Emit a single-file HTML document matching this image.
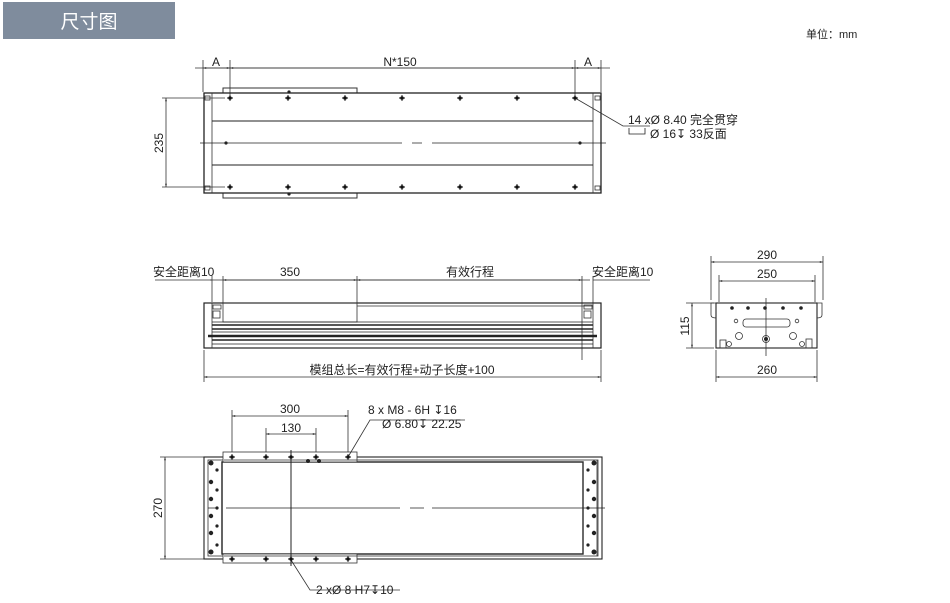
<!DOCTYPE html>
<html><head><meta charset="utf-8"><style>
html,body{margin:0;padding:0;background:#fff;}
svg{display:block;}
text{font-family:"Liberation Sans","Noto Sans CJK SC",sans-serif;fill:#222;font-size:12px;}
</style></head><body>
<svg width="950" height="603" viewBox="0 0 950 603" xmlns="http://www.w3.org/2000/svg">
<defs>
<marker id="a" viewBox="0 0 10 10" refX="10" refY="5" markerWidth="6" markerHeight="4" orient="auto-start-reverse"><path d="M0,2 L10,5 L0,8 z" fill="#333"/></marker>
<g id="h"><circle r="1.8" fill="#111"/><path d="M-3,0H3M0,-3V3" stroke="#111" stroke-width="0.9"/></g>
</defs>
<rect x="3" y="2" width="172" height="37" fill="#7f8c9d"/>
<text x="89" y="28" text-anchor="middle" style="font-size:19px;fill:#fff">尺寸图</text>
<text x="806" y="38" style="font-size:11px">单位：mm</text>

<g stroke="#333" stroke-width="0.8" fill="none">
<!-- TOP VIEW -->
<line x1="203" y1="60" x2="203" y2="92"/><line x1="230" y1="60" x2="230" y2="96"/>
<line x1="575" y1="60" x2="575" y2="96"/><line x1="601" y1="60" x2="601" y2="92"/>
<line x1="195" y1="68" x2="610" y2="68"/>
<line x1="203" y1="68" x2="230" y2="68" marker-start="url(#a)" marker-end="url(#a)"/>
<line x1="230" y1="68" x2="575" y2="68" marker-start="url(#a)" marker-end="url(#a)"/>
<line x1="575" y1="68" x2="601" y2="68" marker-start="url(#a)" marker-end="url(#a)"/>
<line x1="162" y1="98" x2="225" y2="98"/><line x1="162" y1="187" x2="225" y2="187"/>
<line x1="166" y1="98" x2="166" y2="187" marker-start="url(#a)" marker-end="url(#a)"/>
<rect x="223" y="88" width="134" height="5" stroke-width="1"/>
<rect x="223" y="193" width="134" height="5" stroke-width="1"/>
<rect x="204" y="93" width="397" height="100" stroke-width="1.3" stroke="#222"/>
<line x1="212" y1="93" x2="212" y2="193"/><line x1="593" y1="93" x2="593" y2="193"/>
<line x1="212" y1="121" x2="593" y2="121" stroke-width="1.1" stroke="#222"/><line x1="212" y1="165" x2="593" y2="165" stroke-width="1.1" stroke="#222"/>
<rect x="205" y="96" width="5" height="4"/><rect x="205" y="186" width="5" height="4"/>
<rect x="595" y="96" width="5" height="4"/><rect x="595" y="186" width="5" height="4"/>
<path d="M200,143H402M412,143H422M432,143H606" stroke="#222"/>
<path d="M575,98L623,126H650"/>
<path d="M629,128V134H645V128" stroke="#222"/>

<!-- SIDE VIEW -->
<line x1="210" y1="280" x2="590" y2="280"/>
<line x1="212" y1="276" x2="212" y2="302"/><line x1="223" y1="276" x2="223" y2="303"/>
<line x1="357" y1="276" x2="357" y2="303"/>
<line x1="582" y1="276" x2="582" y2="360"/><line x1="593" y1="276" x2="593" y2="303"/>
<line x1="155" y1="280" x2="212" y2="280"/><line x1="593" y1="280" x2="650" y2="280"/>
<line x1="223" y1="280" x2="357" y2="280" marker-start="url(#a)" marker-end="url(#a)"/>
<line x1="357" y1="280" x2="582" y2="280" marker-start="url(#a)" marker-end="url(#a)"/>
<rect x="204" y="303" width="397" height="45" stroke-width="1.2" stroke="#222"/>
<line x1="212" y1="303" x2="212" y2="348"/><line x1="593" y1="303" x2="593" y2="348"/>
<rect x="223" y="303" width="134" height="19"/>
<line x1="357" y1="306" x2="593" y2="306"/>
<rect x="213" y="305" width="8" height="4"/><rect x="213" y="311" width="7" height="7"/>
<rect x="584" y="305" width="8" height="4"/><rect x="584" y="311" width="7" height="7"/>
<g stroke="#222"><line x1="212" y1="322" x2="593" y2="322"/><line x1="212" y1="325" x2="593" y2="325" stroke-width="1.4"/>
<line x1="212" y1="329" x2="593" y2="329" stroke-width="1.5"/><line x1="212" y1="332" x2="593" y2="332"/>
<line x1="208" y1="336" x2="597" y2="336" stroke-width="2.6"/><line x1="212" y1="340" x2="593" y2="340" stroke-width="1.4"/>
<line x1="212" y1="344" x2="593" y2="344"/></g>
<line x1="204" y1="350" x2="204" y2="382"/><line x1="601" y1="350" x2="601" y2="382"/>
<line x1="204" y1="377" x2="601" y2="377" marker-start="url(#a)" marker-end="url(#a)"/>

<!-- END VIEW -->
<line x1="711" y1="256" x2="711" y2="300"/><line x1="823" y1="256" x2="823" y2="300"/>
<line x1="711" y1="262" x2="823" y2="262" marker-start="url(#a)" marker-end="url(#a)"/>
<line x1="719" y1="275" x2="719" y2="302"/><line x1="815" y1="275" x2="815" y2="302"/>
<line x1="719" y1="281" x2="815" y2="281" marker-start="url(#a)" marker-end="url(#a)"/>
<line x1="686" y1="303" x2="714" y2="303"/><line x1="686" y1="348" x2="714" y2="348"/>
<line x1="692" y1="303" x2="692" y2="348" marker-start="url(#a)" marker-end="url(#a)"/>
<rect x="716" y="303" width="101" height="45" stroke="#222" stroke-width="1.1"/>
<path d="M716,303H711V315Q711,318 716,318"/><path d="M817,303H822V315Q822,318 817,318"/>
<rect x="743" y="319" width="47" height="8" rx="3"/>
<circle cx="736" cy="321" r="1.8"/><circle cx="797" cy="321" r="1.8"/>
<circle cx="739" cy="336" r="3.5"/><circle cx="793" cy="336" r="3.5"/><circle cx="766" cy="339" r="3.5"/>
<rect x="720" y="340" width="6" height="8"/><rect x="806" y="339" width="6" height="9"/>
<circle cx="729" cy="344" r="2.5"/><circle cx="802" cy="344" r="2.5"/>
<line x1="766" y1="298" x2="766" y2="356"/>
<line x1="716" y1="350" x2="716" y2="382"/><line x1="817" y1="350" x2="817" y2="382"/>
<line x1="716" y1="377" x2="817" y2="377" marker-start="url(#a)" marker-end="url(#a)"/>

<!-- BOTTOM VIEW -->
<line x1="232" y1="410" x2="232" y2="452"/><line x1="348" y1="410" x2="348" y2="452"/>
<line x1="232" y1="416" x2="348" y2="416" marker-start="url(#a)" marker-end="url(#a)"/>
<line x1="266" y1="428" x2="266" y2="452"/><line x1="316" y1="428" x2="316" y2="452"/>
<line x1="266" y1="434" x2="316" y2="434" marker-start="url(#a)" marker-end="url(#a)"/>
<line x1="160" y1="457" x2="210" y2="457"/><line x1="160" y1="559" x2="210" y2="559"/>
<line x1="165" y1="457" x2="165" y2="559" marker-start="url(#a)" marker-end="url(#a)"/>
<rect x="204" y="457" width="398" height="102" stroke="#222" stroke-width="1.1"/>
<rect x="208" y="460" width="390" height="96"/>
<rect x="222" y="462" width="361" height="92" stroke="#222" stroke-width="1.4"/>
<line x1="583" y1="462" x2="583" y2="554"/><line x1="597" y1="460" x2="597" y2="556"/>
<rect x="223" y="452" width="134" height="10" fill="#fff"/>
<rect x="223" y="554" width="134" height="9" fill="#fff"/>
<line x1="224" y1="460" x2="357" y2="460"/><line x1="224" y1="556" x2="357" y2="556"/>
<path d="M208,508H218M226,508H400M410,508H424M432,508H605" stroke="#222"/>
<line x1="291" y1="450" x2="291" y2="566" stroke="#222" stroke-width="1"/>
<path d="M348,457L370,420H465"/>
<path d="M291,560L310,590H400"/>
</g>
<g fill="#222">
<g transform="translate(0,98)"><use href="#h" x="230"/><use href="#h" x="288"/><use href="#h" x="345"/><use href="#h" x="402"/><use href="#h" x="460"/><use href="#h" x="517"/><use href="#h" x="575"/></g>
<g transform="translate(0,187)"><use href="#h" x="230"/><use href="#h" x="288"/><use href="#h" x="345"/><use href="#h" x="402"/><use href="#h" x="460"/><use href="#h" x="517"/><use href="#h" x="575"/></g>
<circle cx="289" cy="92" r="1.6"/><circle cx="289" cy="194" r="1.6"/>
<circle cx="226" cy="143" r="1.6"/><circle cx="580" cy="143" r="1.6"/>
<g transform="translate(0,457)"><use href="#h" x="232"/><use href="#h" x="266"/><use href="#h" x="291"/><use href="#h" x="316"/><use href="#h" x="348"/></g>
<g transform="translate(0,559)"><use href="#h" x="232"/><use href="#h" x="266"/><use href="#h" x="291"/><use href="#h" x="316"/><use href="#h" x="348"/></g>
<circle cx="308" cy="461" r="2"/><circle cx="319" cy="461" r="2"/>
<circle cx="211" cy="463" r="2.5"/><circle cx="211" cy="552" r="2.5"/><circle cx="594" cy="463" r="2.5"/><circle cx="594" cy="552" r="2.5"/>
<g><circle cx="211" cy="482" r="2.2"/><circle cx="211" cy="499" r="2.2"/><circle cx="211" cy="516" r="2.2"/><circle cx="211" cy="533" r="2.2"/>
<circle cx="217" cy="470" r="1.6"/><circle cx="217" cy="490" r="1.6"/><circle cx="217" cy="508" r="1.6"/><circle cx="217" cy="526" r="1.6"/><circle cx="217" cy="545" r="1.6"/>
<circle cx="594" cy="482" r="2.2"/><circle cx="594" cy="499" r="2.2"/><circle cx="594" cy="516" r="2.2"/><circle cx="594" cy="533" r="2.2"/>
<circle cx="588" cy="470" r="1.6"/><circle cx="588" cy="490" r="1.6"/><circle cx="588" cy="508" r="1.6"/><circle cx="588" cy="526" r="1.6"/><circle cx="588" cy="545" r="1.6"/></g>
<circle cx="732" cy="308" r="1.8"/><circle cx="748" cy="308" r="1.8"/><circle cx="765" cy="308" r="1.8"/><circle cx="783" cy="308" r="1.8"/><circle cx="801" cy="308" r="1.8"/>
<circle cx="766" cy="339" r="2"/>
</g>

<text x="216" y="66" text-anchor="middle">A</text>
<text x="400" y="66" text-anchor="middle">N*150</text>
<text x="588" y="66" text-anchor="middle">A</text>
<text transform="translate(163,143) rotate(-90)" text-anchor="middle">235</text>
<text x="628" y="124">14 xØ 8.40 完全贯穿</text>
<text x="650" y="138">Ø 16↧ 33反面</text>

<text x="153" y="276">安全距离10</text>
<text x="290" y="276" text-anchor="middle">350</text>
<text x="470" y="276" text-anchor="middle">有效行程</text>
<text x="592" y="276">安全距离10</text>
<text x="402" y="374" text-anchor="middle">模组总长=有效行程+动子长度+100</text>

<text x="767" y="259" text-anchor="middle">290</text>
<text x="767" y="278" text-anchor="middle">250</text>
<text transform="translate(689,326) rotate(-90)" text-anchor="middle">115</text>
<text x="767" y="374" text-anchor="middle">260</text>

<text x="290" y="413" text-anchor="middle">300</text>
<text x="291" y="432" text-anchor="middle">130</text>
<text transform="translate(162,508) rotate(-90)" text-anchor="middle">270</text>
<text x="368" y="414">8 x  M8 - 6H ↧16</text>
<text x="382" y="428">Ø 6.80↧ 22.25</text>
<text x="316" y="594">2 xØ 8 H7↧10</text>
</svg>
</body></html>
